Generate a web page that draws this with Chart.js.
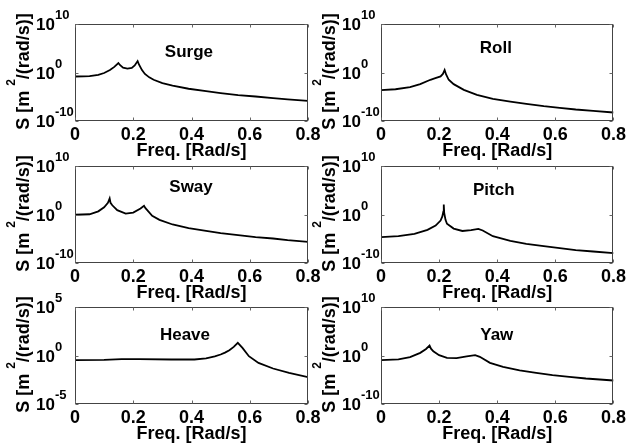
<!DOCTYPE html>
<html>
<head>
<meta charset="utf-8">
<script src="https://cdn.jsdelivr.net/npm/chart.js@4.4.0/dist/chart.umd.min.js"></script>
<style>
  html, body { margin: 0; padding: 0; background: #fff; }
  #wrap { position: relative; width: 629px; height: 447px; overflow: hidden; }
  canvas { position: absolute; }
</style>
</head>
<body>
<div id="wrap"></div>
<script>
const FONT = '"Liberation Sans", Arial, Helvetica, sans-serif';

// x ticks shared by all panels
const freqTicks = [0, 0.2, 0.4, 0.6, 0.8];

// y ticks (decades) for each kind of panel
const yExpWide = [-10, 0, 10];
const yExpHeave = [-5, 0, 5];

// spectra: frequency [rad/s] and log10 of S
const surgeFreq = [0, 0.03, 0.05, 0.08, 0.1, 0.12, 0.135, 0.149, 0.155, 0.165, 0.18, 0.195, 0.205, 0.215, 0.22, 0.23, 0.24, 0.255, 0.27, 0.3, 0.335, 0.39, 0.45, 0.5, 0.56, 0.62, 0.68, 0.73, 0.8];
const surgeLogS = [-0.82, -0.8, -0.76, -0.5, -0.1, 0.5, 1.15, 1.95, 1.5, 1.0, 0.82, 0.95, 1.45, 2.35, 1.6, 0.5, -0.3, -1.0, -1.5, -2.2, -2.7, -3.35, -3.85, -4.25, -4.65, -4.95, -5.3, -5.55, -5.85];

const rollFreq = [0, 0.05, 0.1, 0.135, 0.17, 0.187, 0.205, 0.213, 0.219, 0.224, 0.233, 0.25, 0.285, 0.33, 0.385, 0.445, 0.5, 0.56, 0.615, 0.67, 0.73, 0.8];
const rollLogS = [-3.64, -3.45, -3.02, -2.4, -1.5, -1.17, -0.82, -0.3, 0.5, -0.4, -1.5, -2.4, -3.57, -4.6, -5.43, -6.0, -6.46, -6.94, -7.29, -7.63, -7.9, -8.25];

const swayFreq = [0, 0.05, 0.08, 0.1, 0.113, 0.119, 0.122, 0.128, 0.145, 0.174, 0.2, 0.225, 0.237, 0.242, 0.248, 0.265, 0.29, 0.335, 0.39, 0.45, 0.5, 0.56, 0.62, 0.68, 0.73, 0.8];
const swayLogS = [-0.05, 0.05, 0.65, 1.5, 2.4, 3.3, 2.4, 1.9, 0.9, 0.2, 0.4, 1.24, 1.79, 1.3, 0.9, -0.27, -1.1, -2.06, -2.82, -3.37, -3.85, -4.26, -4.67, -4.95, -5.3, -5.64];

const pitchFreq = [0, 0.06, 0.115, 0.16, 0.188, 0.205, 0.211, 0.2145, 0.216, 0.2175, 0.222, 0.227, 0.25, 0.28, 0.31, 0.335, 0.35, 0.385, 0.445, 0.5, 0.56, 0.615, 0.67, 0.73, 0.8];
const pitchLogS = [-4.67, -4.47, -4.0, -3.16, -2.27, -1.24, -0.4, 0.6, 2.06, 0.3, -1.1, -1.9, -2.9, -3.4, -3.2, -2.96, -3.3, -4.47, -5.43, -6.05, -6.53, -6.94, -7.35, -7.63, -7.97];

const heaveFreq = [0, 0.1, 0.16, 0.22, 0.33, 0.41, 0.45, 0.48, 0.5, 0.515, 0.53, 0.545, 0.559, 0.575, 0.597, 0.63, 0.68, 0.735, 0.8];
const heaveLogS = [-0.48, -0.45, -0.38, -0.38, -0.41, -0.41, -0.3, -0.1, 0.1, 0.3, 0.55, 0.89, 1.31, 0.79, -0.07, -0.76, -1.34, -1.79, -2.23];

const yawFreq = [0, 0.06, 0.1, 0.135, 0.155, 0.167, 0.172, 0.18, 0.2, 0.227, 0.26, 0.295, 0.324, 0.34, 0.375, 0.42, 0.477, 0.534, 0.59, 0.648, 0.705, 0.8];
const yawLogS = [-0.96, -0.82, -0.34, 0.55, 1.35, 2.06, 1.4, 0.85, 0.07, -0.48, -0.55, -0.2, 0.07, -0.27, -1.51, -2.34, -3.09, -3.57, -4.05, -4.4, -4.74, -5.15];

const panels = [
  { name: 'Surge', freq: surgeFreq, logS: surgeLogS, yExp: yExpWide,  col: 0, row: 0, tx: 0.489, ty: 0.337 },
  { name: 'Roll',  freq: rollFreq,  logS: rollLogS,  yExp: yExpWide,  col: 1, row: 0, tx: 0.494, ty: 0.296 },
  { name: 'Sway',  freq: swayFreq,  logS: swayLogS,  yExp: yExpWide,  col: 0, row: 1, tx: 0.498, ty: 0.268 },
  { name: 'Pitch', freq: pitchFreq, logS: pitchLogS, yExp: yExpWide,  col: 1, row: 1, tx: 0.485, ty: 0.296 },
  { name: 'Heave', freq: heaveFreq, logS: heaveLogS, yExp: yExpHeave, col: 0, row: 2, tx: 0.472, ty: 0.337 },
  { name: 'Yaw',   freq: yawFreq,   logS: yawLogS,   yExp: yExpWide,  col: 1, row: 2, tx: 0.498, ty: 0.337 }
];

// canvas placement; paddings put the plot boxes where the reference has them
const cols = [
  { left: 0,   width: 325, padL: 75, padR: 17 },
  { left: 305, width: 324, padL: 76, padR: 15 }
];
const rows = [
  { top: 0,   height: 165, padB: 3 },
  { top: 142, height: 165, padB: 3 },
  { top: 283, height: 164, padB: 2 }
];

function makeFrame(p) {
  return {
    id: 'frame',
    afterDatasetsDraw(chart) {
      const { ctx, chartArea: a, scales: { x, y } } = chart;
      const l = Math.round(a.left) + 0.5, t = Math.round(a.top) + 0.5;
      const r = Math.round(a.right) - 0.5, b = Math.round(a.bottom) - 0.5;
      ctx.save();

      // box and inward ticks
      ctx.strokeStyle = '#444';
      ctx.lineWidth = 1;
      ctx.strokeRect(l, t, r - l, b - t);
      ctx.strokeStyle = '#666';
      ctx.beginPath();
      freqTicks.forEach(f => {
        const px = Math.round(x.getPixelForValue(f)) + 0.5;
        ctx.moveTo(px, b); ctx.lineTo(px, b - 3);
        ctx.moveTo(px, t); ctx.lineTo(px, t + 3);
      });
      p.yExp.forEach(e => {
        const py = Math.round(y.getPixelForValue(Math.pow(10, e))) + 0.5;
        ctx.moveTo(l, py); ctx.lineTo(l + 3, py);
        ctx.moveTo(r, py); ctx.lineTo(r - 3, py);
      });
      ctx.stroke();

      // y tick labels 10^e
      ctx.fillStyle = '#000';
      ctx.textBaseline = 'alphabetic';
      p.yExp.forEach(e => {
        const py = y.getPixelForValue(Math.pow(10, e));
        const bx = a.left - 20;
        ctx.font = 'bold 17px ' + FONT;
        ctx.textAlign = 'right';
        ctx.fillText('10', bx, py + 6);
        ctx.font = 'bold 13px ' + FONT;
        ctx.textAlign = 'left';
        ctx.fillText(String(e), bx, py - 5);
      });

      // y axis title with superscript
      ctx.translate(a.left - 53, (a.top + a.bottom) / 2 - 1);
      ctx.rotate(-Math.PI / 2);
      const parts = [
        { s: 'S [m ', font: 'bold 18px ' + FONT, dy: 6.5 },
        { s: '2', font: 'bold 12px ' + FONT, dy: -7 },
        { s: '/(rad/s)]', font: 'bold 18px ' + FONT, dy: 6.5 }
      ];
      let total = 0;
      parts.forEach(pt => { ctx.font = pt.font; pt.w = ctx.measureText(pt.s).width; total += pt.w; });
      let cx = -total / 2;
      ctx.textAlign = 'left';
      parts.forEach(pt => { ctx.font = pt.font; ctx.fillText(pt.s, cx, pt.dy); cx += pt.w; });
      ctx.restore();

      // panel name
      ctx.save();
      ctx.fillStyle = '#000';
      ctx.font = 'bold 17px ' + FONT;
      ctx.textAlign = 'center';
      ctx.textBaseline = 'alphabetic';
      ctx.fillText(p.name, a.left + p.tx * (a.right - a.left), a.top + p.ty * (a.bottom - a.top));
      ctx.restore();
    }
  };
}

const wrap = document.getElementById('wrap');
panels.forEach(p => {
  const col = cols[p.col], row = rows[p.row];
  const canvas = document.createElement('canvas');
  canvas.width = col.width;
  canvas.height = row.height;
  canvas.style.left = col.left + 'px';
  canvas.style.top = row.top + 'px';
  canvas.style.width = col.width + 'px';
  canvas.style.height = row.height + 'px';
  wrap.appendChild(canvas);

  new Chart(canvas.getContext('2d'), {
    type: 'line',
    data: {
      datasets: [{
        data: p.freq.map((f, i) => ({ x: f, y: Math.pow(10, p.logS[i]) })),
        borderColor: '#000',
        borderWidth: 1.8,
        pointRadius: 0,
        tension: 0,
        fill: false
      }]
    },
    options: {
      responsive: false,
      animation: false,
      events: [],
      layout: { padding: { left: col.padL, right: col.padR, top: 24, bottom: row.padB } },
      plugins: { legend: { display: false }, tooltip: { enabled: false } },
      scales: {
        x: {
          type: 'linear',
          min: 0,
          max: 0.8,
          grid: { display: false, drawTicks: false },
          border: { display: false },
          afterBuildTicks: s => { s.ticks = freqTicks.map(v => ({ value: v })); },
          afterFit: s => { s.height = 41; },
          ticks: {
            autoSkip: false,
            maxRotation: 0,
            padding: 3,
            color: '#000',
            font: { family: FONT, size: 18, weight: 'bold' },
            callback: v => (v === 0 ? '0' : v.toFixed(1))
          },
          title: {
            display: true,
            text: 'Freq. [Rad/s]',
            color: '#000',
            font: { family: FONT, size: 18, weight: 'bold' },
            padding: { top: 0, bottom: 0 }
          }
        },
        y: {
          type: 'logarithmic',
          display: false,
          min: Math.pow(10, p.yExp[0]),
          max: Math.pow(10, p.yExp[2])
        }
      }
    },
    plugins: [makeFrame(p)]
  });
});
</script>
</body>
</html>
